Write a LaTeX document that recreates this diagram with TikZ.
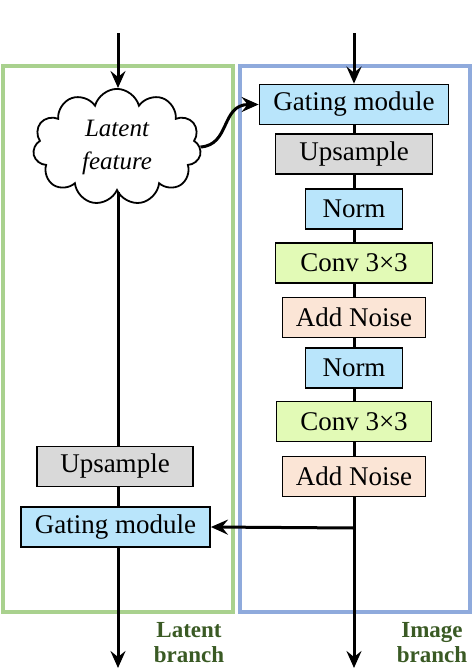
\documentclass[tikz,border=0pt]{standalone}
\usepackage{fontspec}
\setmainfont{Liberation Serif}
\usetikzlibrary{arrows.meta,shapes.symbols}
\definecolor{gatefill}{HTML}{B9E5FB}
\definecolor{upfill}{HTML}{D9D9D9}
\definecolor{convfill}{HTML}{E2FAB6}
\definecolor{noisefill}{HTML}{FBE5D6}
\definecolor{latframe}{HTML}{A9D18E}
\definecolor{imgframe}{HTML}{8FAADC}
\definecolor{branchgreen}{HTML}{3A5A24}
\tikzset{
  blk/.style={draw, line width=1.8pt, minimum height=40pt, inner sep=0pt, font=\fontsize{27}{30}\selectfont},
  wire/.style={line width=3pt},
  arr/.style={wire, -{Stealth[length=17pt,width=15pt,inset=6pt]}},
  frame/.style={line width=3.2pt},
  brlabel/.style={font=\bfseries\fontsize{23}{25}\selectfont, text=branchgreen, align=center}
}
\begin{document}
\begin{tikzpicture}[x=1pt, y=-1pt]
  \useasboundingbox (0,0) rectangle (472,672);
  \draw[frame, latframe] (3,66) rectangle (233,612);
  \draw[frame, imgframe] (240,66) rectangle (470,612);

  \node[cloud, draw, line width=1.8pt, cloud puffs=11, minimum width=168pt, minimum height=99pt, inner sep=0pt, align=center, font=\itshape\fontsize{25}{33}\selectfont] (lat) at (117,147) {Latent\\feature};
  \node[blk, fill=upfill, minimum width=156pt] (upL) at (115,466.5) {Upsample};
  \node[blk, fill=gatefill, minimum width=189pt] (gateL) at (115.5,527) {Gating module};

  \node[blk, fill=gatefill, minimum width=189pt] (gateR) at (354,104.5) {Gating module};
  \node[blk, fill=upfill, minimum width=157pt] (upR) at (354,154) {Upsample};
  \node[blk, fill=gatefill, minimum width=97pt] (normA) at (354,209) {Norm};
  \node[blk, fill=convfill, minimum width=157pt] (convA) at (354,263) {Conv 3×3};
  \node[blk, fill=noisefill, minimum width=143pt] (noiseA) at (354,317.5) {Add Noise};
  \node[blk, fill=gatefill, minimum width=97pt] (normB) at (354,368) {Norm};
  \node[blk, fill=convfill, minimum width=155pt] (convB) at (354,421.5) {Conv 3×3};
  \node[blk, fill=noisefill, minimum width=143pt] (noiseB) at (354,476.5) {Add Noise};

  \coordinate (inL) at (118,33);
  \coordinate (inR) at (354,33);
  \coordinate (outL) at (118,668);
  \coordinate (outR) at (354,668);
  \coordinate (tap) at (354,528);

  \draw[arr] (inL) -- (inL |- lat.north);
  \draw[arr] (inR) -- (gateR.north);
  \draw[arr] (lat.east) .. controls +(30,-2) and +(-38,0) .. (gateR.west);
  \draw[wire] (lat.south -| outL) -- (upL.north -| outL);
  \draw[wire] (upL.south -| outL) -- (gateL.north -| outL);
  \draw[arr] (gateL.south -| outL) -- (outL);
  \foreach \a/\b in {gateR/upR, upR/normA, normA/convA, convA/noiseA, noiseA/normB, normB/convB, convB/noiseB}
    \draw[wire] (\a.south) -- (\b.north);
  \draw[wire] (noiseB.south) -- (tap);
  \draw[arr] (tap) -- (outR);
  \draw[arr] (tap) -- (gateL.east);

  \node[brlabel] (latlab) at (189,643) {Latent\\branch};
  \node[brlabel] (imglab) at (432,643) {Image\\branch};
\end{tikzpicture}
\end{document}
